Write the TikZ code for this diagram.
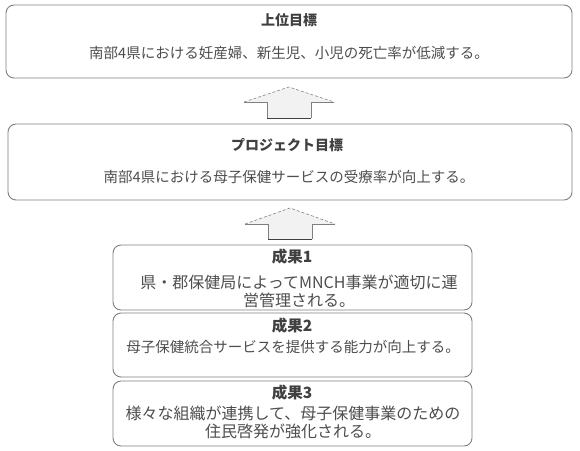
\documentclass[tikz,border=0pt]{standalone}
\usepackage{fontspec}
\setmainfont{Noto Sans CJK JP}
\usepackage{tikz}

\definecolor{boxline}{HTML}{7F7F7F}
\definecolor{txt}{HTML}{404040}
\definecolor{bodytxt}{HTML}{4D4D4D}
\definecolor{arrowfill}{HTML}{F2F2F2}

\tikzset{
  box/.style={draw=boxline, line width=0.9pt, rounded corners=8pt, inner sep=0pt},
  title/.style={text=txt, font=\fontsize{14}{17}\selectfont\bfseries},
  titlewide/.style={text=txt, font=\fontsize{15.5}{18}\selectfont\bfseries},
  body/.style={text=bodytxt, font=\fontsize{14.5}{18}\selectfont, align=center},
  bodywide/.style={text=bodytxt, font=\fontsize{16}{18}\selectfont, align=center},
}

\begin{document}
\begin{tikzpicture}[x=1pt, y=-1pt]
\useasboundingbox (0,0) rectangle (580,450);

% boxes
\node[box, minimum width=566pt, minimum height=73pt] (goal) at (289, 41.5) {};
\node[box, minimum width=564pt, minimum height=76pt] (purpose) at (290, 162) {};
\node[box, minimum width=359pt, minimum height=65pt] (out1) at (292.5, 277.5) {};
\node[box, minimum width=359pt, minimum height=64pt] (out2) at (292.5, 345) {};
\node[box, minimum width=359pt, minimum height=65pt] (out3) at (292.5, 413.5) {};

% texts
\node[title] (goaltitle) at (289, 20) {上位目標};
\node[body] (goalbody) at (289, 53) {南部4県における妊産婦、新生児、小児の死亡率が低減する。};
\node[title] (purposetitle) at (287, 145) {プロジェクト目標};
\node[body] (purposebody) at (289, 177) {南部4県における母子保健サービスの受療率が向上する。};
\node[titlewide] (out1title) at (292, 257) {成果1};
\node[bodywide] (out1body) at (299, 291) {県・郡保健局によってMNCH事業が適切に運\\営管理される。};
\node[titlewide] (out2title) at (292, 326) {成果2};
\node[body] (out2body) at (293, 347) {母子保健統合サービスを提供する能力が向上する。};
\node[titlewide] (out3title) at (292, 393) {成果3};
\node[bodywide] (out3body) at (293, 422) {様々な組織が連携して、母子保健事業のための\\住民啓発が強化される。};

% arrow between purpose and goal
\fill[arrowfill] (289, 87) -- (334, 102) -- (311, 102) -- (311, 118) -- (267, 118) -- (267, 102) -- (244, 102) -- cycle;
\draw[boxline, densely dashed, line width=0.6pt] (244, 102) -- (289, 87) -- (334, 102);
\draw[boxline, line width=0.6pt] (244, 102) -- (267, 102) -- (267, 118);
\draw[boxline, line width=0.6pt] (334, 102) -- (311, 102) -- (311, 118);
\draw[txt, line width=0.9pt] (267, 118) -- (311, 118);

% arrow between outputs and purpose
\fill[arrowfill] (290, 208) -- (335, 224) -- (312, 224) -- (312, 239) -- (268, 239) -- (268, 224) -- (245, 224) -- cycle;
\draw[boxline, densely dashed, line width=0.6pt] (245, 224) -- (290, 208) -- (335, 224);
\draw[boxline, line width=0.6pt] (245, 224) -- (268, 224) -- (268, 239);
\draw[boxline, line width=0.6pt] (335, 224) -- (312, 224) -- (312, 239);
\draw[txt, line width=0.9pt] (268, 239) -- (312, 239);

\end{tikzpicture}
\end{document}
